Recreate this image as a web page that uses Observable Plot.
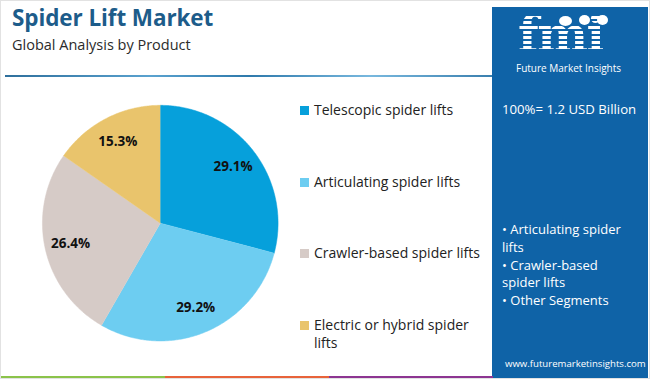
<!DOCTYPE html>
<html>
<head>
<meta charset="utf-8">
<script src="https://cdn.jsdelivr.net/npm/d3@7"></script>
<script src="https://cdn.jsdelivr.net/npm/@observablehq/plot@0.6"></script>
<style>
  html, body { margin: 0; padding: 0; background: #fff; }
  #wrap { position: relative; width: 650px; height: 379px; overflow: hidden; font-family: "Open Sans", sans-serif; box-sizing: border-box; border: 1px solid #e2e2e2; }
  #chart { position: absolute; left: -1px; top: -1px; }
  .abs { position: absolute; white-space: nowrap; }
  #title { left: 11px; top: 4px; font-size: 22.5px; line-height: 25px; font-weight: 700; color: #1d5c8a; letter-spacing: -0.1px; }
  #subtitle { left: 11px; top: 35px; font-size: 14.5px; line-height: 18px; color: #2b2b2b; }
  #topline { left: 4px; top: 74px; width: 487px; height: 2px; background: linear-gradient(90deg, #2e6f9c, #5aa2cf 30%, #2e79ab 50%, #78b8de 75%, #3a7fae); }
  #panel { left: 491px; top: 6px; width: 156px; height: 372px; background: #0f63a7; }
  #legend .item { position: absolute; left: 299px; font-size: 14px; color: #222; line-height: 18px; }
  #legend .sw { position: absolute; left: 0; top: 5px; width: 9px; height: 9px; }
  #legend .lbl { position: absolute; left: 14px; top: 0; white-space: nowrap; }
  .ptxt { position: absolute; color: #fff; white-space: nowrap; }
  #strip { left: 0; top: 375px; height: 4px; width: 492px; display: flex; }
  #strip div { height: 100%; }
  #logo { left: 517px; top: 10px; font-family: "DejaVu Serif", serif; font-weight: 700; font-size: 48px; line-height: 46px; height: 46px; letter-spacing: -1.5px;
    background: repeating-linear-gradient(180deg, #fff 0 3.5px, transparent 3.5px 5px); -webkit-background-clip: text; background-clip: text; color: transparent; }
  .dot { position: absolute; width: 11px; height: 10px; border-radius: 50%; background: #fff; }
</style>
</head>
<body>
<div id="wrap">
  <div id="chart"></div>
  <div class="abs" id="title">Spider Lift Market</div>
  <div class="abs" id="subtitle">Global Analysis by Product</div>
  <div class="abs" id="topline"></div>
  <div class="abs" id="panel"></div>
  <div class="abs" id="logo">fmi</div>
  <div class="dot" style="left:558px;top:15px;width:13px;"></div>
  <div class="dot" style="left:578px;top:14px;"></div>
  <div class="dot" style="left:596px;top:14px;"></div>
  <div class="ptxt" style="left:515px;top:60px;font-size:10px;">Future Market Insights</div>
  <div class="ptxt" style="left:501px;top:99px;font-size:13.2px;">100%= 1.2 USD Billion</div>
  <div class="ptxt" id="bullets" style="left:501px;top:220px;font-size:13px;line-height:17.8px;"></div>
  <div class="ptxt" style="left:504px;top:356px;font-size:9.6px;">www.futuremarketinsights.com</div>
  <div id="legend"></div>
  <div class="abs" id="strip"></div>
</div>
<script>
// ---- data ----
const categories = ["Telescopic spider lifts", "Articulating spider lifts", "Crawler-based spider lifts", "Electric or hybrid spider lifts"];
const legendLines = [["Telescopic spider lifts"], ["Articulating spider lifts"], ["Crawler-based spider lifts"], ["Electric or hybrid spider", "lifts"]];
const shares = [29.1, 29.2, 26.4, 15.3];
const colors = ["#06a0db", "#6dcdf1", "#d6cbc7", "#e9c46c"];
const otherSegments = [["• Articulating spider", "lifts"], ["• Crawler-based", "spider lifts"], ["• Other Segments"]];
const stripColors = ["#8bc34a", "#e8633a", "#8d3592"];

// ---- pie geometry (data space, radius 1) ----
const pie = d3.pie().sort(null).value(d => d.share)(categories.map((c, i) => ({cat: c, share: shares[i]})));
const slicePts = [];
for (const a of pie) {
  const n = Math.max(8, Math.ceil((a.endAngle - a.startAngle) / 0.01));
  slicePts.push({cat: a.data.cat, x: 0, y: 0});
  for (let k = 0; k <= n; k++) {
    const t = a.startAngle + (a.endAngle - a.startAngle) * k / n;
    slicePts.push({cat: a.data.cat, x: Math.sin(t), y: Math.cos(t)});
  }
}
const labels = pie.map(a => {
  const m = (a.startAngle + a.endAngle) / 2;
  return {x: 0.78 * Math.sin(m), y: 0.78 * Math.cos(m), text: a.data.share.toFixed(1) + "%"};
});

// pixel mapping: center (160,223), radius 118
const W = 650, H = 379, cx = 160, cy = 223, R = 118;
const chart = Plot.plot({
  width: W, height: H, margin: 0,
  x: {domain: [-cx / R, (W - cx) / R], axis: null},
  y: {domain: [(cy - H) / R, cy / R], axis: null},
  color: {domain: categories, range: colors},
  marks: [
    Plot.line(slicePts, {x: "x", y: "y", z: "cat", fill: "cat", stroke: "cat", strokeWidth: 0.5, curve: "linear"}),
    Plot.text(labels, {x: "x", y: "y", text: "text", fontSize: 13.5, fontWeight: 700, fill: "#111", fontFamily: "Open Sans, sans-serif"})
  ],
  style: {background: "transparent"}
});
document.getElementById("chart").appendChild(chart);

// legend
const legendTops = [100, 172, 243, 315];
const lg = document.getElementById("legend");
categories.forEach((c, i) => {
  const it = document.createElement("div");
  it.className = "item";
  it.style.top = legendTops[i] + "px";
  it.innerHTML = `<div class="sw" style="background:${colors[i]}"></div><div class="lbl">${legendLines[i].join("<br>")}</div>`;
  lg.appendChild(it);
});

// bullets
document.getElementById("bullets").innerHTML = otherSegments.map(l => l.join("<br>")).join("<br>");

// strip
const st = document.getElementById("strip");
stripColors.forEach(c => { const d = document.createElement("div"); d.style.background = c; d.style.flex = "1"; st.appendChild(d); });
</script>
</body>
</html>
